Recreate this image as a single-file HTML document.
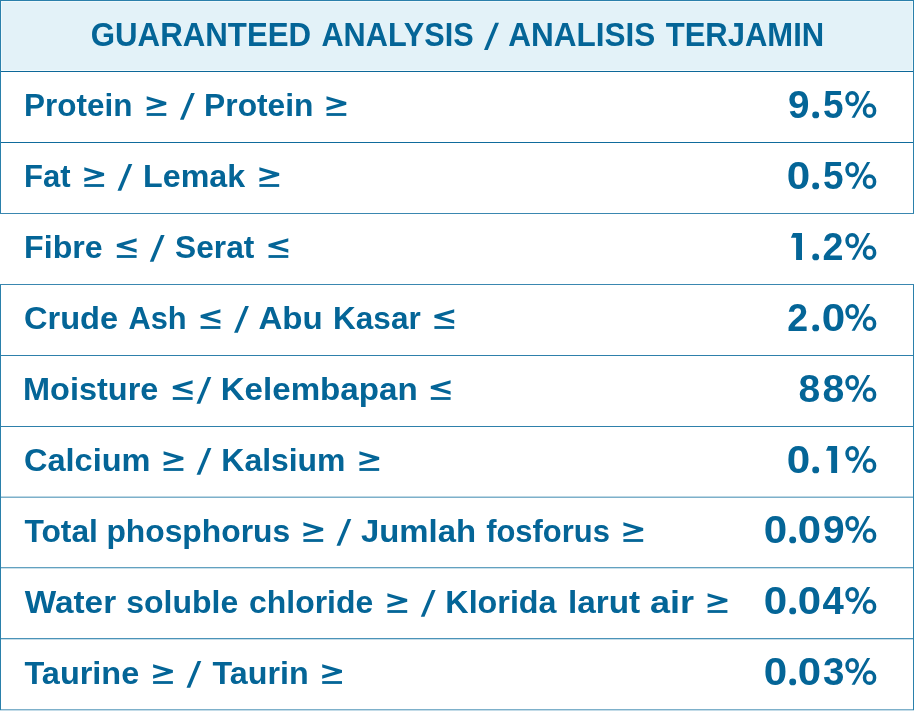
<!DOCTYPE html>
<html><head><meta charset="utf-8"><title>Guaranteed Analysis</title>
<style>
html,body{margin:0;padding:0;background:#fff}
body{width:914px;height:711px;position:relative;overflow:hidden;font-family:"Liberation Sans",sans-serif}
#hd{position:absolute;left:0;top:0;width:914px;height:71px;background:#e3f2f8}
#hd i{position:absolute;left:1px;top:1px;right:1px;bottom:0;border:1px solid #eff9fc;border-bottom-color:#f3fbfd}
.h{position:absolute;left:0;width:914px;height:1px;background:#0f6a9b}
.v{position:absolute;width:1px;background:#2a80ab}
#tx{position:absolute;left:0;top:0;width:914px;height:711px;will-change:transform}
.t{position:absolute;white-space:pre;line-height:1;font-weight:bold;color:#046597;transform-origin:0 0;font-family:"Liberation Sans",sans-serif}
svg{position:absolute;left:0;top:0}
</style></head>
<body>
<div id="hd"><i></i></div>
<div class="h" style="top:0;background:#2a80ab"></div>
<div class="h" style="top:71px;background:#0d6899"></div>
<div class="h" style="top:142px;background:#0f6b9c"></div>
<div class="h" style="top:213px;background:#3a87b0"></div>
<div class="h" style="top:284px;background:#3a87b0"></div>
<div class="h" style="top:355px;background:#2e80ab"></div>
<div class="h" style="top:426px;background:#2e80ab"></div>
<div class="h" style="top:496px;background:#bcd7e4"></div>
<div class="h" style="top:497px;background:#7db0ca"></div>
<div class="h" style="top:567px;background:#62a1c0"></div>
<div class="h" style="top:568px;background:#cbe0ea"></div>
<div class="h" style="top:638px;background:#4a93b8"></div>
<div class="h" style="top:639px;background:#c7dde8"></div>
<div class="h" style="top:709px;background:#7db0ca"></div>
<div class="h" style="top:710px;background:#c4dce8"></div>
<div class="v" style="left:0;top:0;height:213px"></div>
<div class="v" style="left:0;top:285px;height:425px"></div>
<div class="v" style="left:913px;top:0;height:213px"></div>
<div class="v" style="left:913px;top:285px;height:425px"></div>
<svg width="914" height="711" viewBox="0 0 914 711" fill="#046597">
<polygon points="495.20,22.80 499.00,22.80 487.80,49.90 484.00,49.90"/>
<polygon points="146.70,96.20 166.30,101.95 166.30,104.85 146.70,110.70 146.70,107.30 159.73,103.40 146.70,99.60"/><rect x="146.70" y="113.10" width="19.60" height="2.8"/>
<polygon points="191.10,93.00 194.80,93.00 183.70,119.80 180.00,119.80"/>
<polygon points="326.50,96.20 346.30,101.95 346.30,104.85 326.50,110.70 326.50,107.30 339.67,103.40 326.50,99.60"/><rect x="326.50" y="113.10" width="19.80" height="2.8"/>
<circle cx="815.70" cy="114.90" r="3.45"/>
<ellipse cx="852.15" cy="98.60" rx="5.1" ry="5.95" fill="none" stroke="#046597" stroke-width="3.5"/>
<ellipse cx="869.55" cy="110.65" rx="5.05" ry="5.7" fill="none" stroke="#046597" stroke-width="3.5"/>
<polygon points="867.00,91.10 870.20,91.10 854.80,117.80 851.60,117.80"/>
<polygon points="84.30,167.20 104.10,172.95 104.10,175.85 84.30,181.70 84.30,178.30 97.47,174.40 84.30,170.60"/><rect x="84.30" y="184.10" width="19.80" height="2.8"/>
<polygon points="128.60,164.00 132.30,164.00 121.20,190.80 117.50,190.80"/>
<polygon points="259.40,167.20 279.20,172.95 279.20,175.85 259.40,181.70 259.40,178.30 272.57,174.40 259.40,170.60"/><rect x="259.40" y="184.10" width="19.80" height="2.8"/>
<circle cx="815.70" cy="185.90" r="3.45"/>
<ellipse cx="852.15" cy="169.60" rx="5.1" ry="5.95" fill="none" stroke="#046597" stroke-width="3.5"/>
<ellipse cx="869.55" cy="181.65" rx="5.05" ry="5.7" fill="none" stroke="#046597" stroke-width="3.5"/>
<polygon points="867.00,162.10 870.20,162.10 854.80,188.80 851.60,188.80"/>
<polygon points="136.60,238.20 116.80,243.95 116.80,246.85 136.60,252.70 136.60,249.30 123.43,245.40 136.60,241.60"/><rect x="116.80" y="255.10" width="19.80" height="2.8"/>
<polygon points="160.90,235.00 164.60,235.00 153.50,261.80 149.80,261.80"/>
<polygon points="288.30,238.20 268.50,243.95 268.50,246.85 288.30,252.70 288.30,249.30 275.13,245.40 288.30,241.60"/><rect x="268.50" y="255.10" width="19.80" height="2.8"/>
<polygon points="793.00,233.00 802.00,233.00 802.00,259.90 796.10,259.90 796.10,237.80 790.90,237.80"/>
<circle cx="815.70" cy="256.90" r="3.45"/>
<ellipse cx="852.15" cy="240.60" rx="5.1" ry="5.95" fill="none" stroke="#046597" stroke-width="3.5"/>
<ellipse cx="869.55" cy="252.65" rx="5.05" ry="5.7" fill="none" stroke="#046597" stroke-width="3.5"/>
<polygon points="867.00,233.10 870.20,233.10 854.80,259.80 851.60,259.80"/>
<polygon points="220.40,309.20 200.60,314.95 200.60,317.85 220.40,323.70 220.40,320.30 207.23,316.40 220.40,312.60"/><rect x="200.60" y="326.10" width="19.80" height="2.8"/>
<polygon points="245.20,306.00 248.90,306.00 237.80,332.80 234.10,332.80"/>
<polygon points="454.20,309.20 434.40,314.95 434.40,317.85 454.20,323.70 454.20,320.30 441.03,316.40 454.20,312.60"/><rect x="434.40" y="326.10" width="19.80" height="2.8"/>
<circle cx="815.70" cy="327.90" r="3.45"/>
<ellipse cx="852.15" cy="311.60" rx="5.1" ry="5.95" fill="none" stroke="#046597" stroke-width="3.5"/>
<ellipse cx="869.55" cy="323.65" rx="5.05" ry="5.7" fill="none" stroke="#046597" stroke-width="3.5"/>
<polygon points="867.00,304.10 870.20,304.10 854.80,330.80 851.60,330.80"/>
<polygon points="192.60,380.20 172.80,385.95 172.80,388.85 192.60,394.70 192.60,391.30 179.43,387.40 192.60,383.60"/><rect x="172.80" y="397.10" width="19.80" height="2.8"/>
<polygon points="207.60,377.00 211.30,377.00 200.20,403.80 196.50,403.80"/>
<polygon points="450.60,380.20 430.80,385.95 430.80,388.85 450.60,394.70 450.60,391.30 437.43,387.40 450.60,383.60"/><rect x="430.80" y="397.10" width="19.80" height="2.8"/>
<ellipse cx="852.15" cy="382.60" rx="5.1" ry="5.95" fill="none" stroke="#046597" stroke-width="3.5"/>
<ellipse cx="869.55" cy="394.65" rx="5.05" ry="5.7" fill="none" stroke="#046597" stroke-width="3.5"/>
<polygon points="867.00,375.10 870.20,375.10 854.80,401.80 851.60,401.80"/>
<polygon points="163.60,451.20 183.40,456.95 183.40,459.85 163.60,465.70 163.60,462.30 176.77,458.40 163.60,454.60"/><rect x="163.60" y="468.10" width="19.80" height="2.8"/>
<polygon points="207.70,448.00 211.40,448.00 200.30,474.80 196.60,474.80"/>
<polygon points="359.40,451.20 379.20,456.95 379.20,459.85 359.40,465.70 359.40,462.30 372.57,458.40 359.40,454.60"/><rect x="359.40" y="468.10" width="19.80" height="2.8"/>
<circle cx="815.70" cy="469.90" r="3.45"/>
<polygon points="828.10,446.00 837.10,446.00 837.10,472.90 831.20,472.90 831.20,450.80 826.00,450.80"/>
<ellipse cx="852.15" cy="453.60" rx="5.1" ry="5.95" fill="none" stroke="#046597" stroke-width="3.5"/>
<ellipse cx="869.55" cy="465.65" rx="5.05" ry="5.7" fill="none" stroke="#046597" stroke-width="3.5"/>
<polygon points="867.00,446.10 870.20,446.10 854.80,472.80 851.60,472.80"/>
<polygon points="303.40,522.20 323.20,527.95 323.20,530.85 303.40,536.70 303.40,533.30 316.57,529.40 303.40,525.60"/><rect x="303.40" y="539.10" width="19.80" height="2.8"/>
<polygon points="347.60,519.00 351.30,519.00 340.20,545.80 336.50,545.80"/>
<polygon points="623.40,522.20 643.20,527.95 643.20,530.85 623.40,536.70 623.40,533.30 636.57,529.40 623.40,525.60"/><rect x="623.40" y="539.10" width="19.80" height="2.8"/>
<circle cx="792.70" cy="539.90" r="3.45"/>
<ellipse cx="852.15" cy="523.60" rx="5.1" ry="5.95" fill="none" stroke="#046597" stroke-width="3.5"/>
<ellipse cx="869.55" cy="535.65" rx="5.05" ry="5.7" fill="none" stroke="#046597" stroke-width="3.5"/>
<polygon points="867.00,516.10 870.20,516.10 854.80,542.80 851.60,542.80"/>
<polygon points="387.40,593.20 407.20,598.95 407.20,601.85 387.40,607.70 387.40,604.30 400.57,600.40 387.40,596.60"/><rect x="387.40" y="610.10" width="19.80" height="2.8"/>
<polygon points="431.90,590.00 435.60,590.00 424.50,616.80 420.80,616.80"/>
<polygon points="707.60,593.20 727.40,598.95 727.40,601.85 707.60,607.70 707.60,604.30 720.77,600.40 707.60,596.60"/><rect x="707.60" y="610.10" width="19.80" height="2.8"/>
<circle cx="792.70" cy="610.90" r="3.45"/>
<ellipse cx="852.15" cy="594.60" rx="5.1" ry="5.95" fill="none" stroke="#046597" stroke-width="3.5"/>
<ellipse cx="869.55" cy="606.65" rx="5.05" ry="5.7" fill="none" stroke="#046597" stroke-width="3.5"/>
<polygon points="867.00,587.10 870.20,587.10 854.80,613.80 851.60,613.80"/>
<polygon points="153.10,664.20 172.90,669.95 172.90,672.85 153.10,678.70 153.10,675.30 166.27,671.40 153.10,667.60"/><rect x="153.10" y="681.10" width="19.80" height="2.8"/>
<polygon points="197.60,661.00 201.30,661.00 190.20,687.80 186.50,687.80"/>
<polygon points="322.20,664.20 342.00,669.95 342.00,672.85 322.20,678.70 322.20,675.30 335.37,671.40 322.20,667.60"/><rect x="322.20" y="681.10" width="19.80" height="2.8"/>
<circle cx="792.70" cy="681.90" r="3.45"/>
<ellipse cx="852.15" cy="665.60" rx="5.1" ry="5.95" fill="none" stroke="#046597" stroke-width="3.5"/>
<ellipse cx="869.55" cy="677.65" rx="5.05" ry="5.7" fill="none" stroke="#046597" stroke-width="3.5"/>
<polygon points="867.00,658.10 870.20,658.10 854.80,684.80 851.60,684.80"/>
</svg>
<div id="tx">
<span class="t" style="left:90px;top:19px;font-size:32.5px;transform:translateX(0.75px) scaleX(0.9612)">GUARANTEED</span>
<span class="t" style="left:321px;top:19px;font-size:32.5px;transform:translateX(0.47px) scaleX(0.9437)">ANALYSIS</span>
<span class="t" style="left:508px;top:19px;font-size:32.5px;transform:translateX(0.15px) scaleX(0.9694)">ANALISIS</span>
<span class="t" style="left:665px;top:19px;font-size:32.5px;transform:translateX(0.71px) scaleX(0.9537)">TERJAMIN</span>
<span class="t" style="left:24px;top:89px;font-size:32px;transform:translateX(0.10px) scaleX(0.9833)">Protein</span>
<span class="t" style="left:204px;top:89px;font-size:32px;transform:translateX(0.08px) scaleX(0.9927)">Protein</span>
<span class="t" style="left:787px;top:86px;font-size:38px;transform:translateX(0.90px) scaleX(1.0173)">9</span>
<span class="t" style="left:822px;top:86px;font-size:38px;transform:translateX(0.96px) scaleX(0.9716)">5</span>
<span class="t" style="left:24px;top:160px;font-size:32px;transform:translateX(0.12px) scaleX(0.9702)">Fat</span>
<span class="t" style="left:143px;top:160px;font-size:32px;transform:translateX(0.05px) scaleX(1.0073)">Lemak</span>
<span class="t" style="left:786px;top:157px;font-size:38px;transform:translateX(0.70px) scaleX(1.1087)">0</span>
<span class="t" style="left:822px;top:157px;font-size:38px;transform:translateX(0.96px) scaleX(0.9716)">5</span>
<span class="t" style="left:24px;top:231px;font-size:32px;transform:translateX(0.06px) scaleX(1.0045)">Fibre</span>
<span class="t" style="left:175px;top:231px;font-size:32px;transform:translateX(0.10px) scaleX(0.9892)">Serat</span>
<span class="t" style="left:822px;top:228px;font-size:38px;transform:translateX(0.52px) scaleX(0.9925)">2</span>
<span class="t" style="left:23px;top:302px;font-size:32px;transform:translateX(0.99px) scaleX(1.0185)">Crude</span>
<span class="t" style="left:128px;top:302px;font-size:32px;transform:translateX(0.46px) scaleX(0.9631)">Ash</span>
<span class="t" style="left:258px;top:302px;font-size:32px;transform:translateX(0.40px) scaleX(1.0333)">Abu</span>
<span class="t" style="left:333px;top:302px;font-size:32px;transform:translateX(0.10px) scaleX(0.9842)">Kasar</span>
<span class="t" style="left:787px;top:299px;font-size:38px;transform:translateX(0.33px) scaleX(0.9872)">2</span>
<span class="t" style="left:821px;top:299px;font-size:38px;transform:translateX(0.70px) scaleX(1.1087)">0</span>
<span class="t" style="left:23px;top:373px;font-size:32px;transform:translateX(0.04px) scaleX(1.0149)">Moisture</span>
<span class="t" style="left:220px;top:373px;font-size:32px;transform:translateX(0.70px) scaleX(1.0350)">Kelembapan</span>
<span class="t" style="left:798px;top:370px;font-size:38px;transform:translateX(0.61px) scaleX(1.0273)">8</span>
<span class="t" style="left:822px;top:370px;font-size:38px;transform:translateX(0.40px) scaleX(1.0325)">8</span>
<span class="t" style="left:23px;top:444px;font-size:32px;transform:translateX(1.00px) scaleX(1.0162)">Calcium</span>
<span class="t" style="left:221px;top:444px;font-size:32px;transform:translateX(0.37px) scaleX(0.9969)">Kalsium</span>
<span class="t" style="left:786px;top:441px;font-size:38px;transform:translateX(0.70px) scaleX(1.1087)">0</span>
<span class="t" style="left:24px;top:515px;font-size:32px;transform:translateX(0.41px) scaleX(0.9927)">Total</span>
<span class="t" style="left:106px;top:515px;font-size:32px;transform:translateX(0.38px) scaleX(0.9941)">phosphorus</span>
<span class="t" style="left:360px;top:515px;font-size:32px;transform:translateX(1.00px) scaleX(1.0271)">Jumlah</span>
<span class="t" style="left:486px;top:515px;font-size:32px;transform:translateX(0.14px) scaleX(0.9671)">fosforus</span>
<span class="t" style="left:763px;top:511px;font-size:38px;transform:translateX(0.70px) scaleX(1.1087)">0</span>
<span class="t" style="left:797px;top:511px;font-size:38px;transform:translateX(0.71px) scaleX(1.1033)">0</span>
<span class="t" style="left:822px;top:511px;font-size:38px;transform:translateX(0.99px) scaleX(1.0225)">9</span>
<span class="t" style="left:24px;top:586px;font-size:32px;transform:translateX(0.77px) scaleX(1.0412)">Water</span>
<span class="t" style="left:126px;top:586px;font-size:32px;transform:translateX(0.13px) scaleX(1.0003)">soluble</span>
<span class="t" style="left:249px;top:586px;font-size:32px;transform:translateX(0.04px) scaleX(0.9972)">chloride</span>
<span class="t" style="left:445px;top:586px;font-size:32px;transform:translateX(0.35px) scaleX(1.0085)">Klorida</span>
<span class="t" style="left:567px;top:586px;font-size:32px;transform:translateX(0.95px) scaleX(1.0415)">larut</span>
<span class="t" style="left:650px;top:586px;font-size:32px;transform:translateX(0.01px) scaleX(1.1265)">air</span>
<span class="t" style="left:763px;top:582px;font-size:38px;transform:translateX(0.70px) scaleX(1.1087)">0</span>
<span class="t" style="left:797px;top:582px;font-size:38px;transform:translateX(0.71px) scaleX(1.1033)">0</span>
<span class="t" style="left:822px;top:582px;font-size:38px;transform:translateX(0.49px) scaleX(1.0081)">4</span>
<span class="t" style="left:24px;top:657px;font-size:32px;transform:translateX(0.41px) scaleX(1.0142)">Taurine</span>
<span class="t" style="left:212px;top:657px;font-size:32px;transform:translateX(0.51px) scaleX(1.0083)">Taurin</span>
<span class="t" style="left:763px;top:653px;font-size:38px;transform:translateX(0.70px) scaleX(1.1087)">0</span>
<span class="t" style="left:797px;top:653px;font-size:38px;transform:translateX(0.71px) scaleX(1.1033)">0</span>
<span class="t" style="left:822px;top:653px;font-size:38px;transform:translateX(0.88px) scaleX(1.0133)">3</span>
</div>
</body></html>
